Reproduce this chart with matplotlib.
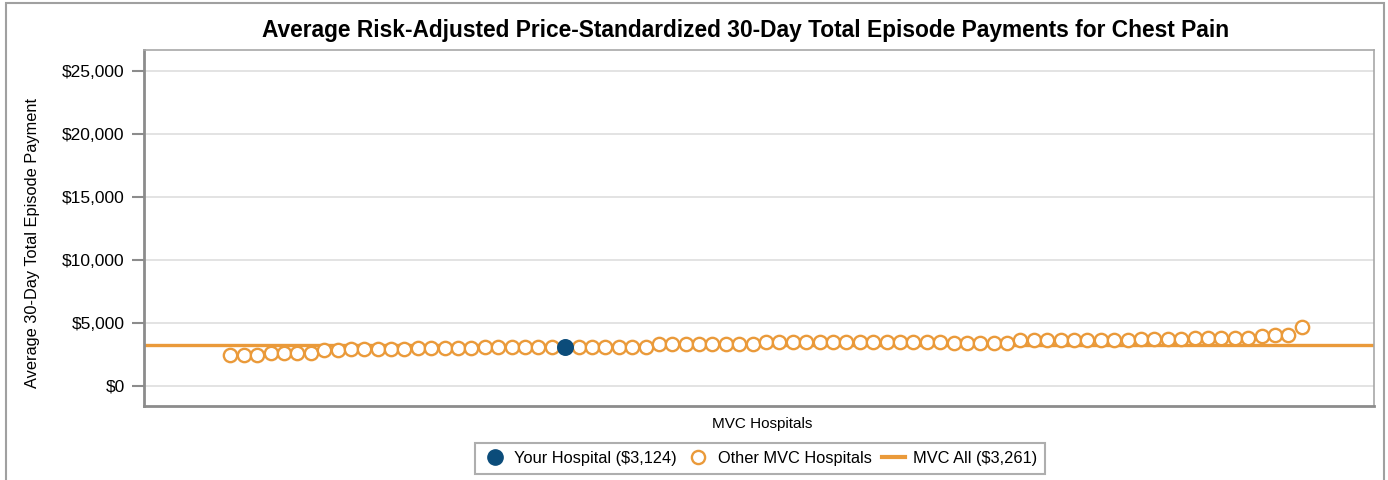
import matplotlib
matplotlib.use("Agg")
import matplotlib.pyplot as plt
from matplotlib.lines import Line2D
from matplotlib.patches import Rectangle
from matplotlib.ticker import FuncFormatter

# ---- data ----
other_values = (
    [2460, 2460, 2460] +
    [2620, 2620, 2630, 2640] +
    [2820, 2840] +
    [2950, 2950, 2960, 2960, 2970] +
    [3020, 3030, 3030, 3040, 3050, 3060] +
    [3110, 3110, 3115, 3115, 3120] +
    [3125, 3125, 3130, 3080, 3080, 3085] +
    [3310, 3310, 3315, 3315, 3320, 3320, 3325, 3330] +
    [3500, 3500, 3505, 3505, 3505, 3510, 3510, 3510, 3510, 3515, 3515, 3515, 3520, 3520] +
    [3390, 3390, 3395, 3395, 3400] +
    [3610, 3610, 3615, 3615, 3620, 3620, 3625, 3630, 3640] +
    [3760, 3760, 3765, 3765, 3770, 3770, 3775, 3780, 3785] +
    [3950, 4060, 4080, 4710]
)
your_index = 25
your_value = 3124
mvc_all = 3261
yticks = [0, 5000, 10000, 15000, 20000, 25000]

title = "Average Risk-Adjusted Price-Standardized 30-Day Total Episode Payments for Chest Pain"
ylabel = "Average 30-Day Total Episode Payment"
xlabel = "MVC Hospitals"
legend_labels = ["Your Hospital ($3,124)", "Other MVC Hospitals", "MVC All ($3,261)"]

# ---- style ----
ORANGE = "#EA9A3A"
NAVY = "#0B4C7A"
GRAY = "#8C8C8C"
plt.rcParams["font.family"] = ["Liberation Sans", "DejaVu Sans"]

W, H = 1388, 480
fig = plt.figure(figsize=(W / 100, H / 100), dpi=100)
ax = fig.add_axes([144 / W, 1 - 406 / H, (1374 - 144) / W, (406 - 50) / H])

n_total = len(other_values) + 1
other_x = [i for i in range(n_total) if i != your_index]

ax.axhline(mvc_all, color=ORANGE, lw=2.4, zorder=2)
ax.plot(other_x, other_values, linestyle="none", marker="o", ms=9.6,
        mfc="white", mec=ORANGE, mew=1.7, zorder=3)
ax.plot([your_index], [your_value], linestyle="none", marker="o", ms=11.2,
        mfc=NAVY, mec=NAVY, mew=1, zorder=4)

ax.set_xlim(-6.45, 85.4)
ax.set_ylim(-1586, 26641)
ax.set_yticks(yticks)
ax.yaxis.set_major_formatter(FuncFormatter(lambda v, p: "${:,.0f}".format(v)))
ax.set_xticks([])
ax.tick_params(axis="y", direction="out", length=9, width=1.5, color=GRAY,
               labelsize=12.5, pad=5)
ax.grid(axis="y", color="#E0E0E0", lw=1.3, zorder=0)
ax.set_axisbelow(True)

for side in ["left", "bottom"]:
    ax.spines[side].set_color(GRAY)
    ax.spines[side].set_linewidth(2)
for side in ["top", "right"]:
    ax.spines[side].set_color("#A8A8A8")
    ax.spines[side].set_linewidth(1.2)

fig.text(746 / W, 1 - 31 / H, title, ha="center", va="center",
         fontsize=16.4, fontweight="bold")
fig.text(33 / W, 1 - 243 / H, ylabel, ha="center", va="center",
         rotation=90, fontsize=11.8)
fig.text(762 / W, 1 - 424 / H, xlabel, ha="center", va="center", fontsize=11)

handles = [
    Line2D([], [], linestyle="none", marker="o", ms=11, mfc=NAVY, mec=NAVY),
    Line2D([], [], linestyle="none", marker="o", ms=9.5, mfc="white", mec=ORANGE, mew=1.7),
    Line2D([], [], color=ORANGE, lw=3),
]
leg = fig.legend(handles, legend_labels, loc="upper center",
                 bbox_to_anchor=(760 / W, 1 - 443 / H), ncol=3, fontsize=11.8,
                 frameon=True, fancybox=False, borderaxespad=0,
                 handlelength=1.4, handletextpad=0.5, columnspacing=0.6,
                 borderpad=0.5)
leg.get_frame().set_edgecolor("#9A9A9A")
leg.get_frame().set_linewidth(1.5)

fig.patches.append(Rectangle((6 / W, -0.05), (1384 - 6) / W, 1.05 - 3 / H,
                             transform=fig.transFigure, fill=False,
                             edgecolor="#A0A0A0", lw=1.5))

fig.savefig("out.png", dpi=100)
